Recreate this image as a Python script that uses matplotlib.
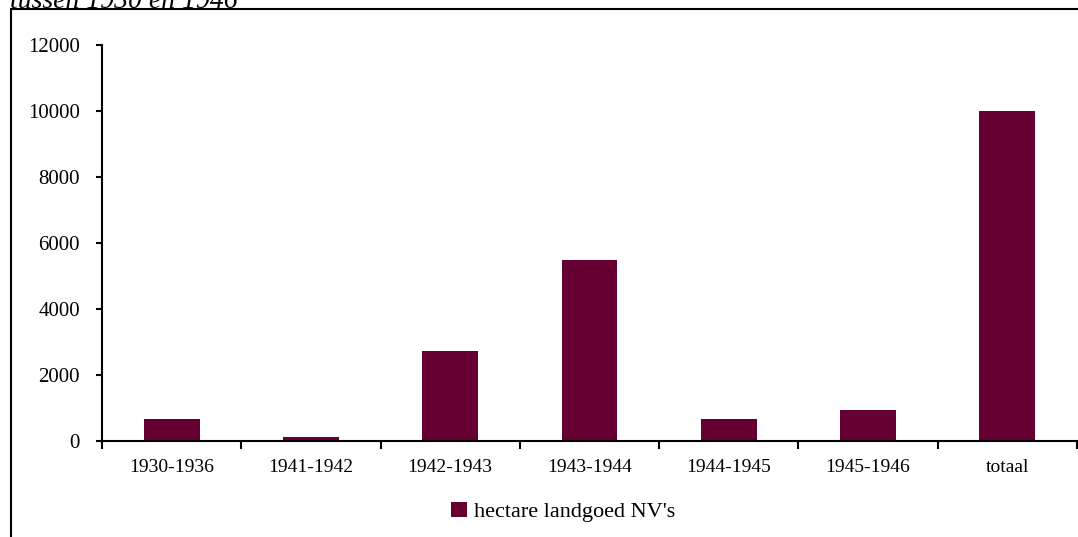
import matplotlib.pyplot as plt
from matplotlib.patches import Rectangle
import numpy as np

plt.rcParams['font.family'] = ['Liberation Serif', 'DejaVu Serif']

periods = ['1930-1936', '1941-1942', '1942-1943', '1943-1944', '1944-1945', '1945-1946', 'totaal']
hectare = [670, 120, 2730, 5500, 670, 940, 10000]
series_name = "hectare landgoed NV's"
title = 'tussen 1930 en 1946'

W, H = 1078, 537
fig = plt.figure(figsize=(W / 100, H / 100), dpi=100)
ax = fig.add_axes([102 / W, 1 - 441 / H, 975 / W, 396 / H])

x = np.arange(len(periods))
bars = ax.bar(x, hectare, width=0.4, color='#660033', label=series_name)

ax.set_xlim(-0.5, len(periods) - 0.5)
ax.set_ylim(0, 12000)
ax.set_yticks(np.arange(0, 12001, 2000))
ax.set_xticks(x)
ax.set_xticklabels(periods)
ax.set_xticks(np.arange(-0.5, len(periods)), minor=True)
ax.tick_params(axis='x', which='major', length=0, pad=13, labelsize=14)
ax.tick_params(axis='x', which='minor', length=6, width=1.5, direction='out')
ax.tick_params(axis='y', length=4, width=1.5, direction='out', pad=12, labelsize=15)
for s in ['top', 'right']:
    ax.spines[s].set_visible(False)
for s in ['left', 'bottom']:
    ax.spines[s].set_linewidth(1.5)

ax.legend(loc='upper center', bbox_to_anchor=(0.473, -0.125), frameon=False,
          fontsize=16, handlelength=0.7, handleheight=0.7, handletextpad=0.3,
          borderpad=0)

# outer frame of the original figure (partly cut off)
fig.patches.append(Rectangle((11 / W, -0.1), 1.2, 1 - 9 / H + 0.1, transform=fig.transFigure,
                             fill=False, edgecolor='black', linewidth=1.5))
fig.text(10 / W, 1 - 1 / H, title, fontsize=20, style='italic', ha='left', va='center')

fig.savefig('out.png', dpi=100)
